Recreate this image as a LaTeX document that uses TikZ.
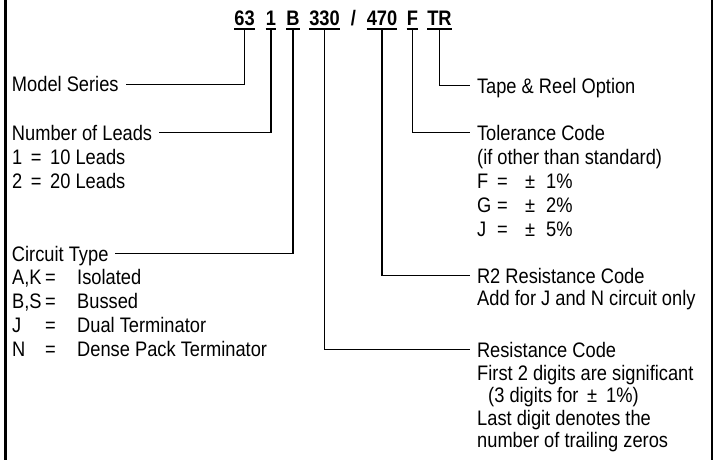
\documentclass[tikz,border=0pt]{standalone}
\usepackage{fontspec}
\setmainfont{Liberation Sans}[FakeStretch=0.87]
\begin{document}
\begin{tikzpicture}[x=1pt,y=-1pt,
  code/.style={font=\fontsize{21}{24}\selectfont\bfseries, inner sep=0pt, anchor=base, text depth=3pt},
  head/.style={font=\fontsize{21}{24}\selectfont, inner sep=0pt, text height=14.5pt, text depth=0pt, outer xsep=7pt, anchor=base west},
  body/.style={font=\fontsize{21}{24}\selectfont, inner sep=0pt, anchor=base west},
  link/.style={line width=1.4pt},
  uline/.style={line width=1.4pt},
  frameline/.style={line width=#1}]
\useasboundingbox (0,0) rectangle (720,460);
% frame sides
\draw[frameline=3pt] (5,0) -- (5,460);
\draw[frameline=2pt] (712,0) -- (712,460);
% title code
\node[code] (t63)  at (244.5,26) {63};
\node[code] (t1)   at (271,26) {1};
\node[code] (tB)   at (293,26) {B};
\node[code] (t330) at (324.5,26) {330};
\node[code] (tsl)  at (353.5,26) {/};
\node[code] (t470) at (382,26) {470};
\node[code] (tF)   at (412.5,26) {F};
\node[code] (tTR)  at (439.5,26) {TR};
\foreach \n in {t63,t1,tB,t330,t470,tF,tTR}
  \draw[uline] (\n.south west) -- (\n.south east);
% left side
\node[head] (ms) at (5,92) {Model Series};
\node[head] (nl) at (5,140) {Number of Leads};
\node[body] (l1) at (12,164) {1 \,=\, 10 Leads};
\node[body] (l2) at (12,188) {2 \,=\, 20 Leads};
\node[head] (ct) at (5,261) {Circuit Type};
\node[body] (c1) at (12,284) {\makebox[33pt][l]{A,K}\makebox[32pt][l]{=}Isolated};
\node[body] (c2) at (12,308) {\makebox[33pt][l]{B,S}\makebox[32pt][l]{=}Bussed};
\node[body] (c3) at (12,332) {\makebox[33pt][l]{J}\makebox[32pt][l]{=}Dual Terminator};
\node[body] (c4) at (12,356) {\makebox[33pt][l]{N}\makebox[32pt][l]{=}Dense Pack Terminator};
% right side
\node[head] (tr) at (470,93) {Tape \& Reel Option};
\node[head] (tc) at (470,140) {Tolerance Code};
\node[body] (o1) at (477,164) {(if other than standard)};
\node[body] (o2) at (477,188) {\makebox[20pt][l]{F}\makebox[28pt][l]{=}±\hspace{11pt}1\%};
\node[body] (o3) at (477,212) {\makebox[20pt][l]{G}\makebox[28pt][l]{=}±\hspace{11pt}2\%};
\node[body] (o4) at (477,236) {\makebox[20pt][l]{J}\makebox[28pt][l]{=}±\hspace{11pt}5\%};
\node[head] (r2) at (470,283) {R2 Resistance Code};
\node[body] (r2a) at (477,305) {Add for J and N circuit only};
\node[head] (rc) at (470,357) {Resistance Code};
\node[body] (rc1) at (477,380) {First 2 digits are significant};
\node[body] (rc2) at (488,402) {(3 digits for \,±\hspace{9pt}1\%)};
\node[body] (rc3) at (477,425) {Last digit denotes the};
\node[body] (rc4) at (477,447) {number of trailing zeros};
% connectors
\draw[link] (t63.south)  |- (ms.east);
\draw[link] (t1.south)   |- (nl.east);
\draw[link] (tB.south)   |- (ct.east);
\draw[link] (t330.south) |- (rc.west);
\draw[link] (t470.south) |- (r2.west);
\draw[link] (tF.south)   |- (tc.west);
\draw[link] (tTR.south)  |- (tr.west);
\end{tikzpicture}
\end{document}
